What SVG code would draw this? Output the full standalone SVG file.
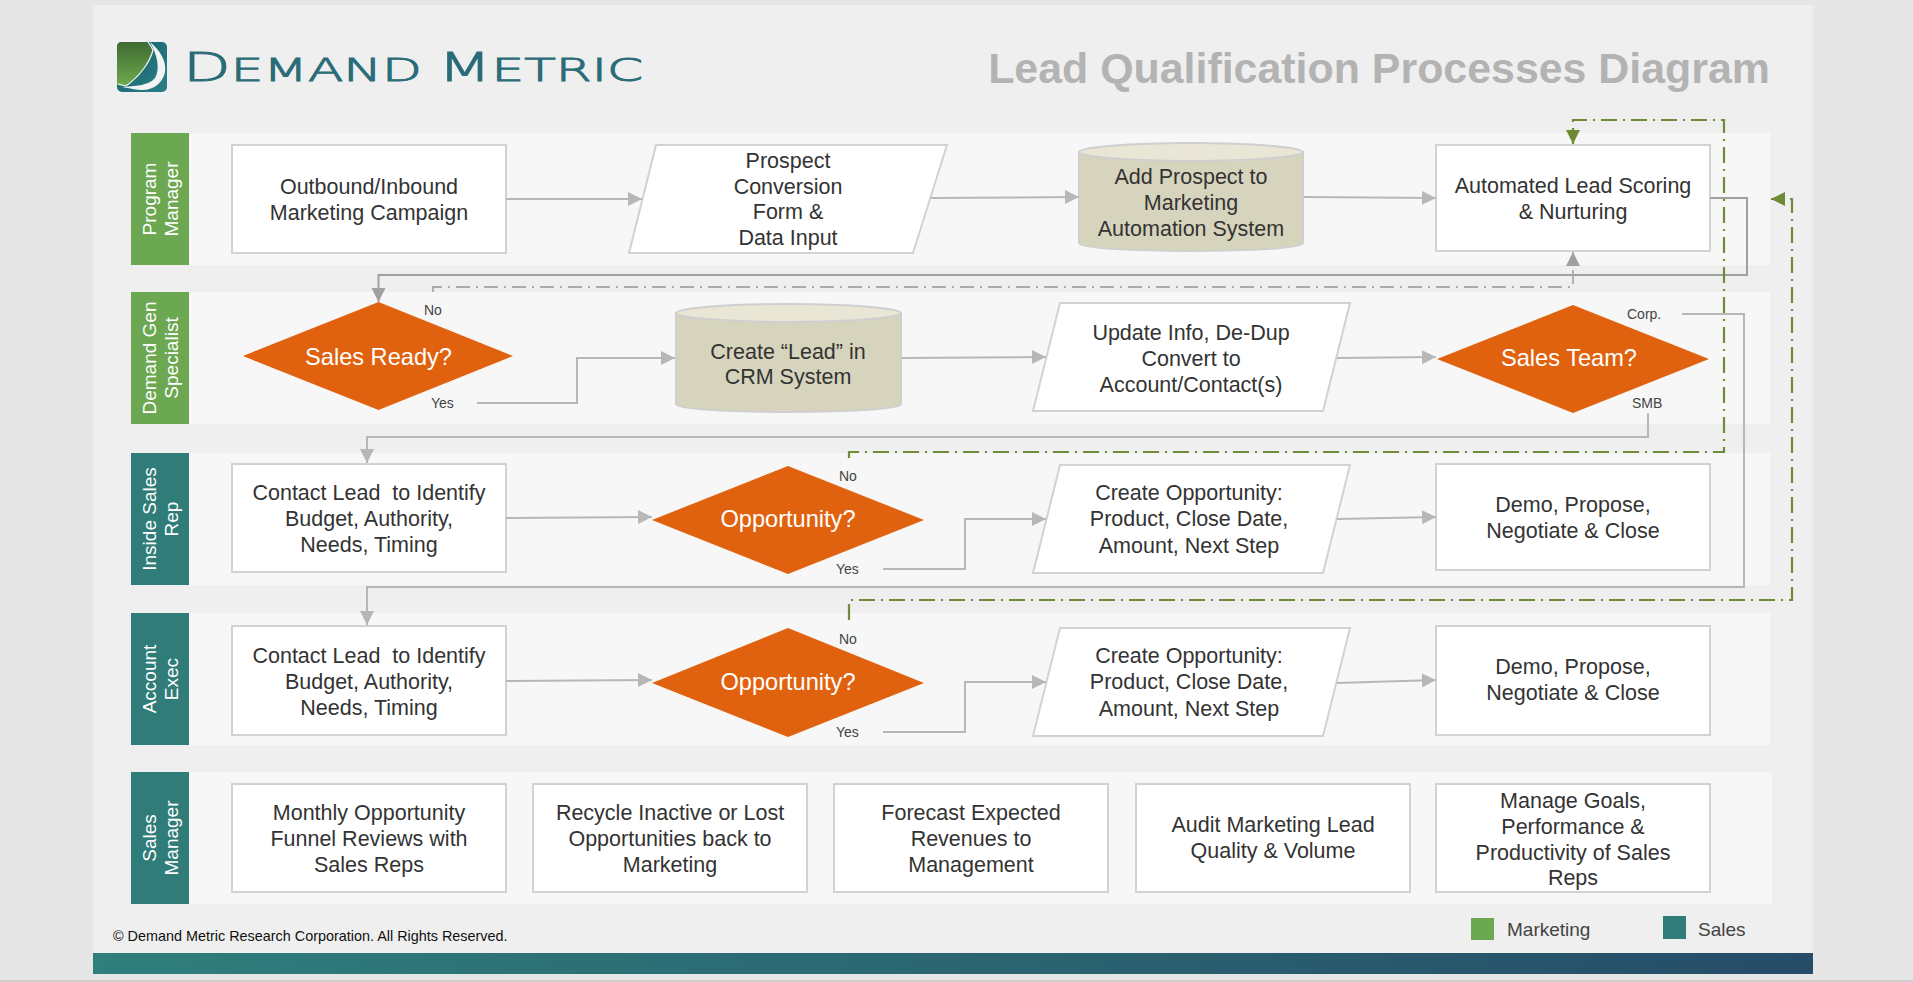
<svg xmlns="http://www.w3.org/2000/svg" width="1913" height="982" viewBox="0 0 1913 982">
<style>
text{font-family:"Liberation Sans",Arial,sans-serif;white-space:pre}
.t{font-size:21.500px;fill:#333;text-anchor:middle}
.d{font-size:23.600px;fill:#fff;text-anchor:middle}
.s{font-size:14px;fill:#444}
.l{font-size:19px;fill:#fff;text-anchor:middle}
.box{fill:#fff;stroke:#d2d2d2;stroke-width:2}
.dia{fill:#e1620e}
.cy{fill:#d7d4bd;stroke:#cfcfcf;stroke-width:2}
.cyt{fill:#e9e6d6;stroke:#cfcfcf;stroke-width:2}
.lane{fill:#f7f7f7}
.c{fill:none;stroke:#b7b7b7;stroke-width:2}
.c2{fill:none;stroke:#a0a0a0;stroke-width:2}
.g{fill:none;stroke:#718c38;stroke-width:2.200;stroke-dasharray:16 6 2 6}
.gd{fill:none;stroke:#aaa;stroke-width:1.800;stroke-dasharray:14 6 2 6}
</style>
<defs>
<marker id="a" markerUnits="userSpaceOnUse" markerWidth="14" markerHeight="16" refX="14" refY="8" orient="auto"><path d="M0 1L14 8L0 15Z" fill="#b7b7b7"/></marker>
<marker id="ag" markerUnits="userSpaceOnUse" markerWidth="14" markerHeight="16" refX="14" refY="8" orient="auto"><path d="M0 1L14 8L0 15Z" fill="#6f8a35"/></marker>
<marker id="ad" markerUnits="userSpaceOnUse" markerWidth="14" markerHeight="16" refX="14" refY="8" orient="auto"><path d="M0 1L14 8L0 15Z" fill="#a0a0a0"/></marker>
<linearGradient id="bar"><stop offset="0" stop-color="#2f7f7c"/><stop offset="1" stop-color="#264c68"/></linearGradient>
<linearGradient id="lg1" x1="0" y1="0" x2="0" y2="1"><stop offset="0" stop-color="#3f6b32"/><stop offset="1" stop-color="#6faa4d"/></linearGradient>
<linearGradient id="lg2" x1="0" y1="0" x2="1" y2="1"><stop offset="0" stop-color="#17606f"/><stop offset="1" stop-color="#2a7f86"/></linearGradient>
</defs>
<rect width="1913" height="982" fill="#e6e6e6"/>
<rect y="980" width="1913" height="2" fill="#cfcfcf"/>
<rect x="93" y="5" width="1720" height="969" fill="#efefef"/>
<rect x="93" y="953" width="1720" height="21" fill="url(#bar)"/>

<g id="logo">
<rect x="117" y="42" width="50" height="50" rx="5" fill="url(#lg2)"/>
<path d="M122 42H146C150 44 152 47 153 50C150 62 140 76 127 86L117 85V47Q117 42 122 42Z" fill="url(#lg1)"/>
<path d="M148 42C151 46 152 48 153 50C150 62 140 76 126 86L118 84" fill="none" stroke="#f4f4f4" stroke-width="1.200"/>
<path d="M150 42C160 50 167 62 165 72C163 82 155 90 142 90C136 90 130 88 122 87C135 86 148 86 155 78C160 70 158 56 150 42Z" fill="#f2f4f4"/>
<text x="183" y="81" textLength="460" lengthAdjust="spacingAndGlyphs" fill="#2a6c78" stroke="#2a6c78" stroke-width="1" font-size="32.500" style="font-family:'DejaVu Sans','Liberation Sans',sans-serif;font-weight:200"><tspan font-size="39">D</tspan>EMAND <tspan font-size="39">M</tspan>ETRIC</text>
</g>
<text id="title" x="1770" y="83" text-anchor="end" font-size="42.900" font-weight="700" fill="#b3b3b3">Lead Qualification Processes Diagram</text>

<g id="lanes">
<rect class="lane" x="131" y="133" width="1639" height="132"/>
<rect class="lane" x="131" y="292" width="1639" height="132"/>
<rect class="lane" x="131" y="453" width="1639" height="132"/>
<rect class="lane" x="131" y="613" width="1639" height="132"/>
<rect class="lane" x="131" y="772" width="1641" height="132"/>
</g>

<g id="lane-program-manager"><rect x="131" y="133" width="58" height="132" fill="#6ca752"/><text class="l" transform="translate(160 199) rotate(-90)"><tspan x="0" y="-4">Program</tspan><tspan x="0" y="18">Manager</tspan></text></g>
<g id="lane-demand-gen"><rect x="131" y="292" width="58" height="132" fill="#6ca752"/><text class="l" transform="translate(160 358) rotate(-90)"><tspan x="0" y="-4">Demand Gen</tspan><tspan x="0" y="18">Specialist</tspan></text></g>
<g id="lane-inside-sales"><rect x="131" y="453" width="58" height="132" fill="#2f7c79"/><text class="l" transform="translate(160 519) rotate(-90)"><tspan x="0" y="-4">Inside Sales</tspan><tspan x="0" y="18">Rep</tspan></text></g>
<g id="lane-account-exec"><rect x="131" y="613" width="58" height="132" fill="#2f7c79"/><text class="l" transform="translate(160 679) rotate(-90)"><tspan x="0" y="-4">Account</tspan><tspan x="0" y="18">Exec</tspan></text></g>
<g id="lane-sales-manager"><rect x="131" y="772" width="58" height="132" fill="#2f7c79"/><text class="l" transform="translate(160 838) rotate(-90)"><tspan x="0" y="-4">Sales</tspan><tspan x="0" y="18">Manager</tspan></text></g>

<g id="n1"><rect class="box" x="232" y="145" width="274" height="108"/><text class="t"><tspan x="369" y="194">Outbound/Inbound</tspan><tspan x="369" y="220">Marketing Campaign</tspan></text></g>
<g id="n2"><path class="box" d="M656 145H947L913 253H629Z"/><text class="t"><tspan x="788" y="168">Prospect</tspan><tspan x="788" y="194">Conversion</tspan><tspan x="788" y="219">Form &amp;</tspan><tspan x="788" y="245">Data Input</tspan></text></g>
<g id="n3"><path class="cy" d="M1079 152V243C1079 248 1130 251 1191 251S1303 248 1303 243V152Z"/><ellipse class="cyt" cx="1191" cy="152" rx="112" ry="9"/><text class="t"><tspan x="1191" y="184">Add Prospect to</tspan><tspan x="1191" y="210">Marketing</tspan><tspan x="1191" y="236">Automation System</tspan></text></g>
<g id="n4"><rect class="box" x="1436" y="145" width="274" height="106"/><text class="t"><tspan x="1573" y="193">Automated Lead Scoring</tspan><tspan x="1573" y="219">&amp; Nurturing</tspan></text></g>

<g id="n5"><path class="dia" d="M243 356L378.500 302L513 356L378.500 410Z"/><text class="d" x="378.500" y="365">Sales Ready?</text><text class="s" x="424" y="315">No</text><text class="s" x="431" y="408">Yes</text></g>
<g id="n6"><path class="cy" d="M676 313V404C676 409 727 412 788.500 412S901 409 901 404V313Z"/><ellipse class="cyt" cx="788.500" cy="313" rx="112.500" ry="9"/><text class="t"><tspan x="788" y="359">Create “Lead” in</tspan><tspan x="788" y="384">CRM System</tspan></text></g>
<g id="n7"><path class="box" d="M1060 303H1350L1323 411H1033Z"/><text class="t"><tspan x="1191" y="340">Update Info, De-Dup</tspan><tspan x="1191" y="366">Convert to</tspan><tspan x="1191" y="392">Account/Contact(s)</tspan></text></g>
<g id="n8"><path class="dia" d="M1437 359L1573 305L1709 359L1573 413Z"/><text class="d" x="1569" y="366">Sales Team?</text><text class="s" x="1627" y="319">Corp.</text><text class="s" x="1632" y="408">SMB</text></g>

<g id="n9"><rect class="box" x="232" y="464" width="274" height="108"/><text class="t"><tspan x="369" y="500">Contact Lead  to Identify</tspan><tspan x="369" y="526">Budget, Authority,</tspan><tspan x="369" y="552">Needs, Timing</tspan></text></g>
<g id="n10"><path class="dia" d="M652 520L788 466L924 520L788 574Z"/><text class="d" x="788" y="527">Opportunity?</text><text class="s" x="839" y="481">No</text><text class="s" x="836" y="574">Yes</text></g>
<g id="n11"><path class="box" d="M1060 465H1350L1323 573H1033Z"/><text class="t"><tspan x="1189" y="500">Create Opportunity:</tspan><tspan x="1189" y="526">Product, Close Date,</tspan><tspan x="1189" y="553">Amount, Next Step</tspan></text></g>
<g id="n12"><rect class="box" x="1436" y="464" width="274" height="106"/><text class="t"><tspan x="1573" y="512">Demo, Propose,</tspan><tspan x="1573" y="538">Negotiate &amp; Close</tspan></text></g>

<g id="n13"><rect class="box" x="232" y="626" width="274" height="109"/><text class="t"><tspan x="369" y="663">Contact Lead  to Identify</tspan><tspan x="369" y="689">Budget, Authority,</tspan><tspan x="369" y="715">Needs, Timing</tspan></text></g>
<g id="n14"><path class="dia" d="M652 683L788 628L924 683L788 737Z"/><text class="d" x="788" y="690">Opportunity?</text><text class="s" x="839" y="644">No</text><text class="s" x="836" y="737">Yes</text></g>
<g id="n15"><path class="box" d="M1060 628H1350L1323 736H1033Z"/><text class="t"><tspan x="1189" y="663">Create Opportunity:</tspan><tspan x="1189" y="689">Product, Close Date,</tspan><tspan x="1189" y="716">Amount, Next Step</tspan></text></g>
<g id="n16"><rect class="box" x="1436" y="626" width="274" height="109"/><text class="t"><tspan x="1573" y="674">Demo, Propose,</tspan><tspan x="1573" y="700">Negotiate &amp; Close</tspan></text></g>

<g id="n17"><rect class="box" x="232" y="784" width="274" height="108"/><text class="t"><tspan x="369" y="820">Monthly Opportunity</tspan><tspan x="369" y="846">Funnel Reviews with</tspan><tspan x="369" y="872">Sales Reps</tspan></text></g>
<g id="n18"><rect class="box" x="533" y="784" width="274" height="108"/><text class="t"><tspan x="670" y="820">Recycle Inactive or Lost</tspan><tspan x="670" y="846">Opportunities back to</tspan><tspan x="670" y="872">Marketing</tspan></text></g>
<g id="n19"><rect class="box" x="834" y="784" width="274" height="108"/><text class="t"><tspan x="971" y="820">Forecast Expected</tspan><tspan x="971" y="846">Revenues to</tspan><tspan x="971" y="872">Management</tspan></text></g>
<g id="n20"><rect class="box" x="1136" y="784" width="274" height="108"/><text class="t"><tspan x="1273" y="832">Audit Marketing Lead</tspan><tspan x="1273" y="858">Quality &amp; Volume</tspan></text></g>
<g id="n21"><rect class="box" x="1436" y="784" width="274" height="108"/><text class="t"><tspan x="1573" y="808">Manage Goals,</tspan><tspan x="1573" y="834">Performance &amp;</tspan><tspan x="1573" y="860">Productivity of Sales</tspan><tspan x="1573" y="885">Reps</tspan></text></g>

<g id="connectors">
<path class="c" marker-end="url(#a)" d="M506 199H642"/>
<path class="c" marker-end="url(#a)" d="M931 198L1079 197"/>
<path class="c" marker-end="url(#a)" d="M1304 197L1436 198"/>
<path class="c2" marker-end="url(#ad)" d="M1710 198H1747V275H378.500V302"/>
<path class="gd" marker-end="url(#ad)" d="M433 292V287H1573V252"/>
<path class="c" marker-end="url(#a)" d="M477 403H577V358H675"/>
<path class="c" marker-end="url(#a)" d="M902 358L1046 357"/>
<path class="c" marker-end="url(#a)" d="M1337 358L1436 357"/>
<path class="c" marker-end="url(#a)" d="M1648 413V437H367V463"/>
<path class="c" marker-end="url(#a)" d="M1682 314H1744V587H367V625"/>
<path class="c" marker-end="url(#a)" d="M506 518L652 517"/>
<path class="c" marker-end="url(#a)" d="M883 569H965V519H1046"/>
<path class="c" marker-end="url(#a)" d="M1337 519L1436 517"/>
<path class="c" marker-end="url(#a)" d="M506 681L652 680"/>
<path class="c" marker-end="url(#a)" d="M883 732H965V682H1046"/>
<path class="c" marker-end="url(#a)" d="M1337 683L1436 680"/>
<path class="g" marker-end="url(#ag)" d="M849 458V452H1724V120H1573V144"/>
<path class="g" marker-end="url(#ag)" d="M849 620V600H1792V199H1771"/>
</g>

<g id="legend">
<rect x="1471" y="918" width="23" height="22" fill="#6ca752"/>
<text x="1507" y="936" font-size="19" fill="#444">Marketing</text>
<rect x="1663" y="916" width="23" height="23" fill="#2f7c79"/>
<text x="1698" y="936" font-size="19" fill="#444">Sales</text>
</g>
<text id="copyright" x="113" y="941" font-size="14.400" fill="#111">© Demand Metric Research Corporation. All Rights Reserved.</text>
</svg>
